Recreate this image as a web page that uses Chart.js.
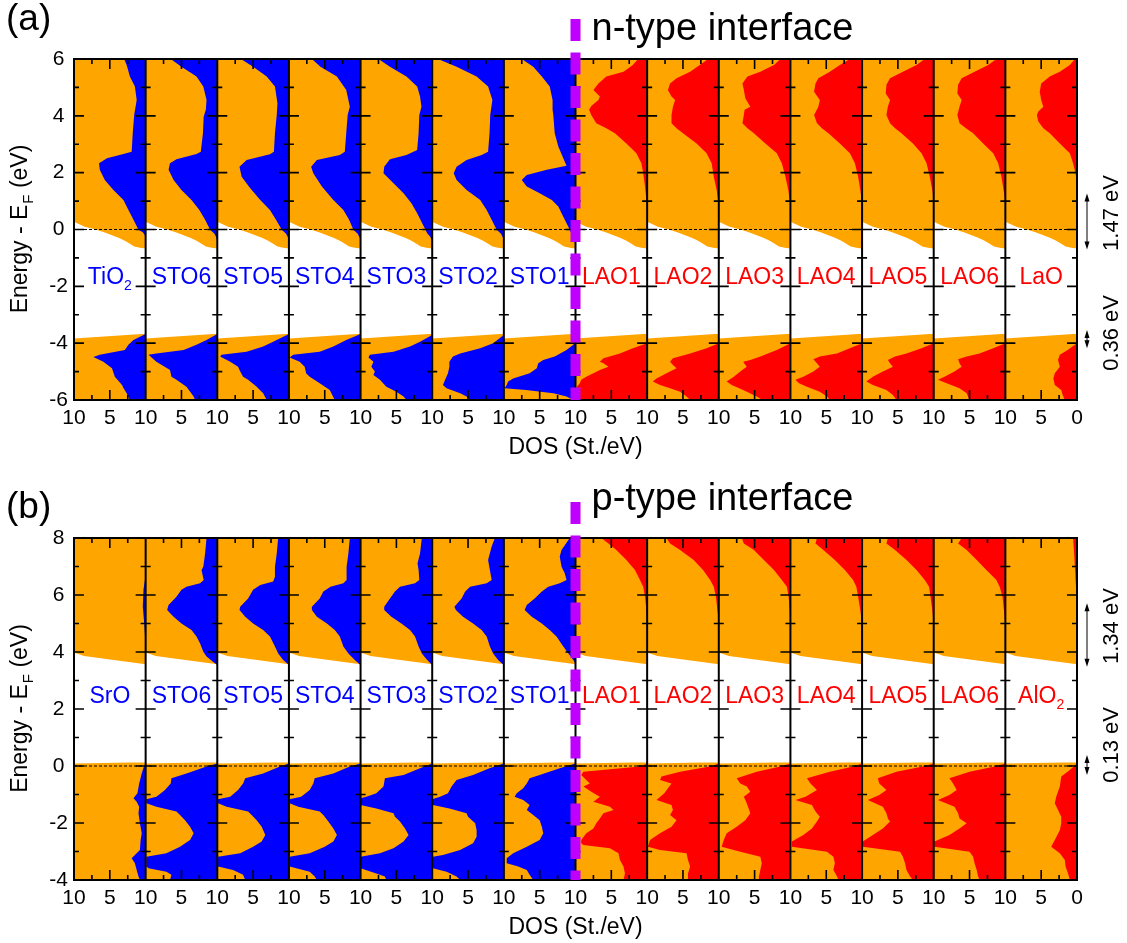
<!DOCTYPE html>
<html>
<head>
<meta charset="utf-8">
<script src="https://cdn.jsdelivr.net/npm/chart.js@4.4.1/dist/chart.umd.min.js"></script>
<style>
html, body { margin: 0; padding: 0; background: #fff; overflow: hidden; }
canvas { position: absolute; left: 0; }
#chartA { top: 0; }
#chartB { top: 480px; }
</style>
</head>
<body>
<canvas id="chartA" width="1127" height="470"></canvas>
<canvas id="chartB" width="1127" height="470"></canvas>
<script>
// ---- panel (a): n-type interface, [energy, DOS] pairs ----
const labelsA = ['TiO_2', 'STO6', 'STO5', 'STO4', 'STO3', 'STO2', 'STO1', 'LAO1', 'LAO2', 'LAO3', 'LAO4', 'LAO5', 'LAO6', 'LaO'];
const totalA = [[6,10],[0.27,10],[0.2,9.4],[0.1,8.5],[0,7],[-0.1,5.8],[-0.2,4.7],[-0.3,3.7],[-0.4,2.9],[-0.5,2.2],[-0.6,1.6],[-0.64,0.8],[-0.67,0],[-3.67,0],[-3.84,10],[-6,10]];

const a_TiO2 = [[6,3.0],[5.79,2.65],[5.38,2.2],[5.03,1.5],[4.56,1.25],[4.03,1.6],[3.39,1.8],[2.74,1.95],[2.66,3.1],[2.51,5.4],[2.33,6.5],[2.10,6.4],[1.74,5.7],[1.39,4.5],[1.04,3.1],[0.69,2.4],[0.34,1.7],[-0.01,1.0],[-0.1,0.4],[-0.2,0.1],[-0.3,0],
  [-3.68,0],[-3.89,1.7],[-4.06,2.4],[-4.24,2.9],[-4.41,6.4],[-4.49,7.3],[-4.65,5.9],[-4.88,4.7],[-5.18,4.3],[-5.47,3.3],[-5.58,3.1],[-5.76,2.65],[-6,2.2]];
const a_STO6 = [[6,6.5],[5.73,5.0],[5.38,2.9],[5.03,1.95],[4.56,1.5],[4.21,1.6],[3.97,1.9],[3.39,2.0],[2.74,2.3],[2.66,2.9],[2.47,5.7],[2.33,6.6],[2.10,6.8],[1.74,6.1],[1.39,5.0],[1.04,3.6],[0.69,2.5],[0.34,1.7],[-0.01,1.0],[-0.15,0.4],[-0.3,0.1],[-0.45,0],
  [-3.68,0],[-3.89,1.5],[-4.06,2.9],[-4.24,4.7],[-4.36,8.5],[-4.41,9.6],[-4.65,8.5],[-4.94,6.6],[-5.18,6.4],[-5.29,5.7],[-5.53,4.3],[-5.88,3.3],[-6,3.1]];
const a_STO5 = [[6,6.7],[5.73,5.0],[5.38,3.1],[5.03,1.95],[4.44,1.6],[4.03,1.7],[3.39,1.95],[2.74,2.1],[2.65,2.65],[2.45,5.9],[2.21,6.9],[1.86,6.6],[1.45,5.4],[1.04,4.0],[0.69,2.65],[0.34,1.8],[-0.01,1.0],[-0.15,0.4],[-0.3,0.1],[-0.45,0],
  [-3.68,0],[-3.89,1.7],[-4.12,3.6],[-4.30,5.9],[-4.41,9.4],[-4.47,9.6],[-4.65,8.2],[-4.83,7.1],[-5.0,6.8],[-5.18,6.4],[-5.29,5.7],[-5.53,4.5],[-5.76,3.6],[-6,3.1]];
const a_STO4 = [[6,6.8],[5.73,5.6],[5.38,3.3],[4.91,2.0],[4.32,1.5],[4.03,1.8],[3.39,2.0],[2.74,2.2],[2.62,2.9],[2.45,6.1],[2.21,6.9],[1.98,6.6],[1.51,5.4],[1.04,3.8],[0.69,2.4],[0.34,1.6],[-0.01,1.0],[-0.15,0.4],[-0.3,0.1],[-0.45,0],
  [-3.68,0],[-3.89,2.0],[-4.12,3.8],[-4.30,5.7],[-4.41,9.4],[-4.50,9.9],[-4.65,8.5],[-4.83,7.8],[-5.06,7.6],[-5.18,7.1],[-5.41,5.7],[-5.65,4.3],[-6,3.6]];
const a_STO3 = [[6,7.5],[5.73,5.9],[5.38,3.6],[5.03,2.1],[4.68,1.7],[4.32,1.5],[4.03,1.8],[3.39,1.9],[2.80,2.1],[2.62,3.6],[2.47,5.9],[2.21,6.7],[1.98,6.8],[1.63,5.4],[1.28,4.0],[0.92,2.9],[0.57,2.1],[0.22,1.4],[-0.13,0.7],[-0.25,0.3],[-0.4,0],
  [-3.71,0],[-3.95,1.7],[-4.12,3.1],[-4.30,5.4],[-4.41,8.7],[-4.50,8.9],[-4.65,8.2],[-4.83,8.5],[-5.0,8.0],[-5.12,8.2],[-5.29,7.3],[-5.53,6.4],[-5.71,5.0],[-5.88,4.0],[-6,3.6]];
const a_STO2 = [[6,9.2],[5.73,6.6],[5.38,3.8],[5.03,2.2],[4.56,1.6],[4.03,1.9],[3.39,2.0],[2.74,2.2],[2.62,3.1],[2.45,5.2],[2.21,6.6],[1.98,7.0],[1.74,6.6],[1.39,5.2],[1.04,3.3],[0.69,2.4],[0.34,1.7],[-0.01,1.0],[-0.15,0.4],[-0.3,0.1],[-0.45,0],
  [-3.71,0],[-4.0,1.5],[-4.18,3.3],[-4.36,6.1],[-4.47,7.1],[-4.65,7.6],[-4.83,7.6],[-5.06,7.8],[-5.29,8.2],[-5.47,8.5],[-5.59,8.0],[-5.76,6.1],[-5.88,5.2],[-6,4.7]];
const a_STO1 = [[6,7.5],[5.73,5.9],[5.38,4.7],[5.03,3.6],[4.56,3.2],[4.21,3.2],[4.03,3.1],[3.39,2.9],[2.92,2.4],[2.45,1.6],[2.24,1.25],[2.10,4.0],[1.92,6.8],[1.74,7.5],[1.51,6.8],[1.28,5.0],[1.04,3.3],[0.81,2.4],[0.45,1.7],[0.10,1.0],[-0.13,0.6],[-0.3,0.2],[-0.45,0],
  [-3.89,0],[-4.06,0.3],[-4.24,1.25],[-4.47,2.9],[-4.59,4.5],[-4.71,5.2],[-4.88,5.4],[-5.06,6.4],[-5.24,8.7],[-5.35,9.4],[-5.47,9.6],[-5.59,9.9],[-5.65,6.9],[-5.76,3.1],[-5.88,1.25],[-6,0.3]];
const a_LAO1 = [[6,1.25],[5.79,2.0],[5.55,3.3],[5.38,5.7],[5.14,6.8],[4.91,7.5],[4.68,6.6],[4.56,6.8],[4.35,7.8],[4.21,8.1],[4.03,7.8],[3.74,7.1],[3.56,5.7],[3.39,4.5],[3.03,2.9],[2.68,1.5],[2.33,0.8],[1.98,0.55],[1.51,0.3],[1.04,0.1],[0.92,0],
  [-4.0,0],[-4.18,2.0],[-4.36,3.8],[-4.53,6.1],[-4.65,6.6],[-4.71,6.1],[-4.83,5.4],[-4.94,6.6],[-5.06,7.5],[-5.18,8.5],[-5.29,9.2],[-5.41,9.4],[-5.53,9.8],[-6,10]];
const a_LAO2 = [[6,1.5],[5.79,2.65],[5.55,4.0],[5.32,5.9],[5.14,6.8],[4.91,7.1],[4.68,6.6],[4.56,6.1],[4.32,6.4],[4.03,6.6],[3.74,6.6],[3.56,5.9],[3.39,5.0],[3.03,3.1],[2.68,1.7],[2.33,1.0],[1.86,0.7],[1.39,0.3],[1.04,0.1],[0.92,0],
  [-4.0,0],[-4.18,1.7],[-4.36,4.0],[-4.53,6.4],[-4.65,6.8],[-4.77,6.4],[-4.88,5.9],[-5.06,7.3],[-5.24,8.7],[-5.35,9.2],[-5.47,8.2],[-5.59,6.8],[-5.71,5.4],[-5.88,4.5],[-6,4.0]];
const a_LAO3 = [[6,1.4],[5.79,2.3],[5.55,4.2],[5.38,6.0],[5.14,6.7],[4.91,6.5],[4.62,6.3],[4.32,5.6],[4.21,6.4],[4.03,6.5],[3.74,6.7],[3.56,6.0],[3.39,5.1],[3.03,3.5],[2.68,1.9],[2.33,1.2],[1.86,0.7],[1.39,0.3],[1.04,0.1],[0.92,0],
  [-4.0,0],[-4.24,1.9],[-4.47,4.2],[-4.59,5.6],[-4.65,6.6],[-4.83,6.1],[-5.0,7.0],[-5.18,7.9],[-5.35,8.9],[-5.47,8.2],[-5.65,6.6],[-5.88,4.7],[-6,3.9]];
const a_LAO4 = [[6,1.7],[5.79,3.1],[5.55,4.5],[5.32,6.1],[5.14,6.5],[4.85,6.7],[4.56,5.9],[4.32,6.1],[4.03,6.7],[3.74,6.3],[3.56,5.6],[3.39,4.7],[3.03,3.1],[2.68,1.7],[2.33,1.0],[1.86,0.55],[1.39,0.25],[1.04,0.05],[0.92,0],
  [-4.0,0],[-4.18,1.7],[-4.36,3.5],[-4.47,5.9],[-4.57,6.8],[-4.71,6.3],[-4.83,5.9],[-5.0,6.8],[-5.18,8.2],[-5.29,9.3],[-5.41,8.8],[-5.53,7.7],[-5.71,5.9],[-5.88,4.9],[-6,4.5]];
const a_LAO5 = [[6,1.25],[5.79,2.4],[5.55,4.3],[5.32,6.1],[5.09,6.6],[4.79,6.7],[4.56,6.1],[4.32,6.4],[4.03,6.6],[3.74,6.1],[3.56,5.4],[3.39,4.5],[3.03,2.9],[2.68,1.7],[2.33,1.0],[1.86,0.55],[1.39,0.2],[1.04,0],
  [-4.0,0],[-4.18,1.7],[-4.36,3.8],[-4.47,5.4],[-4.59,6.4],[-4.71,6.1],[-4.83,5.7],[-5.0,7.1],[-5.18,8.5],[-5.35,9.4],[-5.47,8.5],[-5.65,6.6],[-5.82,5.7],[-6,5.2]];
const a_LAO6 = [[6,1.25],[5.79,2.4],[5.55,4.3],[5.32,6.1],[5.09,6.6],[4.79,6.7],[4.56,6.1],[4.32,6.4],[4.03,6.7],[3.74,6.4],[3.56,5.5],[3.39,4.5],[3.03,3.1],[2.68,1.7],[2.33,1.0],[1.86,0.55],[1.39,0.25],[1.04,0.05],[0.92,0],
  [-4.0,0],[-4.18,1.7],[-4.36,3.6],[-4.47,5.4],[-4.57,6.6],[-4.71,6.4],[-4.83,6.1],[-5.0,7.1],[-5.18,8.5],[-5.29,9.4],[-5.41,8.2],[-5.59,6.4],[-5.76,5.4],[-6,5.0]];
const a_LaO = [[6,0.3],[5.79,1.0],[5.55,2.4],[5.38,3.8],[5.14,5.0],[4.85,5.2],[4.56,5.0],[4.32,4.7],[4.15,5.4],[4.03,5.6],[3.80,5.4],[3.56,4.7],[3.39,3.8],[3.03,2.4],[2.68,1.0],[2.33,0.55],[1.98,0.2],[1.51,0],
  [-4.0,0],[-4.24,1.3],[-4.41,2.4],[-4.59,2.65],[-4.83,2.4],[-5.06,3.1],[-5.24,3.3],[-5.47,3.1],[-5.65,2.2],[-5.82,2.0],[-6,1.7]];
const partsA = [a_TiO2, a_STO6, a_STO5, a_STO4, a_STO3, a_STO2, a_STO1, a_LAO1, a_LAO2, a_LAO3, a_LAO4, a_LAO5, a_LAO6, a_LaO];
const offsetTextA = ['1.47 eV', '0.36 eV'];
const offsetTextEA = [0.58, -3.64];
const offsetArrowA = [[1.27, -0.70], [-3.54, -4.18]];

// ---- panel (b): p-type interface ----
const labelsB = ['SrO', 'STO6', 'STO5', 'STO4', 'STO3', 'STO2', 'STO1', 'LAO1', 'LAO2', 'LAO3', 'LAO4', 'LAO5', 'LAO6', 'AlO_2'];
const totalB = [[8,10],[3.98,10],[3.86,8.6],[3.57,0],[0.13,0],[0.09,10],[-4,10]];

const b_SrO = [[8,0],[6.6,0.05],[6.2,0.3],[5.6,0.4],[5.0,0.2],[4.4,0.05],[4.0,0],
  [0.09,0],[-0.02,0.25],[-0.26,0.55],[-0.61,0.9],[-0.96,1.15],[-1.13,1.7],[-1.25,1.25],[-1.43,0.9],[-1.66,1.0],[-2.01,0.8],[-2.36,0.55],[-2.60,0.7],[-2.95,0.8],[-3.24,1.95],[-3.41,1.5],[-3.65,1.25],[-3.88,1.0],[-4,0.8]];
const b_STO6 = [[8,1.5],[7.46,1.7],[6.99,1.95],[6.88,2.2],[6.53,1.9],[6.41,2.4],[6.29,4.3],[6.18,5.0],[5.94,5.7],[5.65,6.8],[5.47,7.0],[5.24,6.1],[5.0,5.0],[4.77,3.6],[4.54,2.9],[4.30,2.4],[4.01,1.95],[3.84,1.5],[3.66,0.6],[3.54,0],
  [0.09,0],[-0.02,1.5],[-0.26,4.3],[-0.43,6.4],[-0.61,6.5],[-0.84,7.3],[-1.08,8.5],[-1.17,9.9],[-1.31,9.9],[-1.43,8.5],[-1.60,5.7],[-1.72,5.2],[-1.90,4.5],[-2.13,3.8],[-2.36,3.3],[-2.60,3.8],[-2.83,5.2],[-3.06,7.1],[-3.18,9.9],[-3.53,9.9],[-3.59,9.6],[-3.71,7.1],[-3.82,6.4],[-4,6.6]];
const b_STO5 = [[8,1.5],[7.46,1.7],[6.99,1.95],[6.64,1.95],[6.47,2.2],[6.35,4.0],[6.18,5.0],[5.88,5.7],[5.59,6.8],[5.47,6.9],[5.24,6.1],[5.0,5.0],[4.77,3.6],[4.54,2.65],[4.19,1.95],[3.95,1.5],[3.72,0.8],[3.54,0],
  [0.09,0],[-0.02,1.25],[-0.26,3.6],[-0.43,6.1],[-0.61,6.4],[-0.84,7.1],[-1.08,8.2],[-1.17,9.9],[-1.31,9.9],[-1.43,8.7],[-1.60,5.7],[-1.72,5.2],[-1.90,4.5],[-2.13,3.8],[-2.42,3.3],[-2.65,3.8],[-2.83,5.0],[-3.06,6.8],[-3.18,9.9],[-3.53,9.9],[-3.65,7.8],[-3.82,6.4],[-4,6.1]];
const b_STO4 = [[8,1.5],[7.46,1.7],[6.99,1.95],[6.53,1.95],[6.41,2.4],[6.29,4.2],[6.12,5.2],[5.88,5.7],[5.59,6.8],[5.47,6.8],[5.24,6.1],[5.0,4.7],[4.77,3.6],[4.54,2.9],[4.19,2.4],[3.95,1.7],[3.72,0.8],[3.54,0],
  [0.09,0],[-0.02,1.5],[-0.26,3.8],[-0.43,6.4],[-0.61,6.6],[-0.84,7.1],[-1.08,8.3],[-1.17,9.9],[-1.31,9.9],[-1.43,8.7],[-1.60,5.7],[-1.72,5.2],[-1.95,4.5],[-2.19,3.8],[-2.42,3.3],[-2.65,3.8],[-2.83,5.0],[-3.06,7.1],[-3.18,9.9],[-3.53,9.9],[-3.71,7.1],[-3.88,6.4],[-4,6.1]];
const b_STO3 = [[8,1.45],[7.46,1.7],[7.11,2.05],[6.88,1.9],[6.53,1.8],[6.41,2.4],[6.29,4.5],[6.12,5.2],[5.88,5.9],[5.59,6.7],[5.47,6.7],[5.24,5.7],[5.0,4.3],[4.77,3.1],[4.54,2.4],[4.19,1.9],[3.95,1.45],[3.72,0.7],[3.54,0],
  [0.09,0],[-0.08,1.7],[-0.32,4.0],[-0.43,6.6],[-0.72,6.8],[-0.96,7.8],[-1.08,9.2],[-1.13,10],[-1.37,10],[-1.49,7.8],[-1.66,5.4],[-1.78,5.2],[-1.95,4.5],[-2.19,3.8],[-2.42,3.3],[-2.65,4.0],[-2.89,5.4],[-3.06,7.3],[-3.18,10],[-3.59,10],[-3.77,7.8],[-3.88,6.6],[-4,6.4]];
const b_STO2 = [[8,1.25],[7.70,1.7],[7.23,2.2],[6.88,1.95],[6.53,1.7],[6.41,2.4],[6.29,4.7],[6.12,5.4],[5.88,5.9],[5.59,6.9],[5.47,6.7],[5.24,5.7],[5.0,4.3],[4.77,3.1],[4.54,2.4],[4.19,1.95],[3.95,1.5],[3.72,0.8],[3.54,0],
  [0.09,0],[-0.08,2.0],[-0.32,4.3],[-0.49,6.6],[-0.72,7.3],[-0.96,7.8],[-1.08,8.9],[-1.16,9.9],[-1.37,9.9],[-1.49,7.6],[-1.66,5.2],[-1.78,5.0],[-2.01,4.0],[-2.25,3.8],[-2.48,3.8],[-2.71,4.3],[-2.95,6.1],[-3.12,8.5],[-3.18,9.9],[-3.59,9.9],[-3.71,8.0],[-3.88,6.6],[-4,6.1]];
const b_STO1 = [[8,0.8],[7.58,1.95],[7.35,2.2],[6.99,1.95],[6.76,1.5],[6.53,1.25],[6.41,2.2],[6.29,3.8],[6.12,4.7],[5.88,5.7],[5.65,6.8],[5.47,7.1],[5.24,6.1],[5.0,4.7],[4.77,3.6],[4.54,2.65],[4.19,1.7],[3.95,1.0],[3.72,0.3],[3.60,0],
  [0.09,0],[-0.08,2.2],[-0.32,5.0],[-0.43,6.4],[-0.61,6.8],[-0.78,7.3],[-0.96,8.2],[-1.08,8.5],[-1.19,7.3],[-1.37,6.4],[-1.54,6.8],[-1.72,5.9],[-1.90,5.0],[-2.13,4.7],[-2.36,4.5],[-2.60,5.0],[-2.83,6.8],[-3.06,8.7],[-3.24,9.6],[-3.41,9.6],[-3.53,8.0],[-3.65,6.8],[-3.82,6.4],[-4,5.9]];
const b_LAO1 = [[8,6.4],[7.81,5.4],[7.58,4.3],[7.23,2.9],[6.88,1.7],[6.53,1.0],[6.29,0.55],[5.94,0.3],[5.47,0.1],[5.12,0],
  [0.09,0],[-0.02,1.0],[-0.20,8.9],[-0.32,9.2],[-0.49,8.5],[-0.61,8.0],[-0.72,8.9],[-0.90,7.8],[-1.08,6.6],[-1.25,7.5],[-1.43,5.2],[-1.54,4.7],[-1.66,6.1],[-1.84,6.6],[-2.01,7.1],[-2.19,7.5],[-2.36,8.5],[-2.60,9.2],[-2.71,9.2],[-2.77,8.9],[-2.89,5.2],[-3.06,4.0],[-3.30,3.8],[-3.53,3.3],[-3.77,3.1],[-4,3.3]];
const b_LAO2 = [[8,7.3],[7.81,6.8],[7.58,5.4],[7.23,3.5],[6.88,2.2],[6.53,1.2],[6.29,0.7],[5.94,0.4],[5.47,0.2],[5.12,0],
  [0.09,0],[-0.02,1.25],[-0.20,5.4],[-0.37,8.0],[-0.49,8.2],[-0.61,6.6],[-0.78,7.1],[-0.96,7.6],[-1.19,8.7],[-1.37,6.6],[-1.54,6.4],[-1.72,6.8],[-1.90,5.9],[-2.13,6.6],[-2.36,8.2],[-2.60,9.6],[-2.83,9.9],[-2.95,8.2],[-3.06,4.5],[-3.30,4.3],[-3.53,4.0],[-3.77,4.3],[-4,4.3]];
const b_LAO3 = [[8,6.8],[7.81,6.5],[7.58,5.1],[7.23,3.7],[6.88,2.3],[6.53,1.2],[6.29,0.5],[5.94,0.25],[5.47,0.1],[5.12,0],
  [0.09,0],[-0.02,1.4],[-0.20,4.7],[-0.43,7.5],[-0.61,7.0],[-0.72,6.1],[-0.90,5.6],[-1.08,6.5],[-1.31,6.1],[-1.66,5.6],[-1.90,6.3],[-2.13,7.5],[-2.36,8.9],[-2.60,9.3],[-2.83,9.6],[-3.01,7.0],[-3.18,4.2],[-3.41,4.0],[-3.65,4.2],[-3.88,4.4],[-4,4.4]];
const b_LAO4 = [[8,6.3],[7.81,6.5],[7.58,5.4],[7.23,3.8],[6.88,2.4],[6.53,1.25],[6.29,0.8],[5.94,0.55],[5.47,0.25],[5.0,0],
  [0.09,0],[-0.02,1.25],[-0.20,4.5],[-0.43,7.7],[-0.61,7.2],[-0.84,6.3],[-1.08,7.9],[-1.19,9.3],[-1.37,7.0],[-1.60,6.5],[-1.78,5.9],[-1.95,6.3],[-2.19,7.0],[-2.42,8.2],[-2.65,9.8],[-2.83,9.8],[-3.01,4.9],[-3.18,4.0],[-3.41,3.8],[-3.65,4.0],[-3.88,3.5],[-4,3.3]];
const b_LAO5 = [[8,6.4],[7.81,6.6],[7.58,5.4],[7.23,3.8],[6.88,2.4],[6.53,1.25],[6.29,0.65],[5.94,0.45],[5.47,0.2],[5.0,0],
  [0.09,0],[-0.02,1.5],[-0.20,5.2],[-0.43,7.8],[-0.61,7.6],[-0.84,6.6],[-1.02,7.6],[-1.19,9.2],[-1.43,7.1],[-1.66,6.6],[-1.84,6.4],[-1.95,6.1],[-2.19,7.1],[-2.42,8.5],[-2.65,9.9],[-2.83,9.9],[-3.01,4.7],[-3.18,4.3],[-3.41,4.0],[-3.65,3.8],[-3.88,3.3],[-4,2.9]];
const b_LAO6 = [[8,6.1],[7.81,6.6],[7.58,5.4],[7.23,4.0],[6.88,2.65],[6.53,1.25],[6.29,0.8],[5.94,0.4],[5.47,0.2],[5.0,0],
  [0.09,0],[-0.02,1.5],[-0.20,5.0],[-0.43,7.8],[-0.61,7.3],[-0.84,6.8],[-1.02,7.8],[-1.19,9.4],[-1.43,7.1],[-1.66,6.6],[-1.84,6.4],[-2.01,5.4],[-2.19,6.4],[-2.42,7.8],[-2.65,9.9],[-2.83,9.9],[-3.01,5.0],[-3.18,4.5],[-3.41,4.3],[-3.65,4.0],[-3.88,3.8],[-4,3.6]];
const b_AlO2 = [[8,0.55],[7.46,0.4],[6.99,0.3],[6.53,0.2],[5.71,0],
  [0.09,0],[-0.14,1.0],[-0.37,2.2],[-0.72,2.4],[-1.08,2.9],[-1.31,3.1],[-1.54,2.65],[-1.78,2.2],[-2.01,2.2],[-2.25,2.4],[-2.60,3.1],[-2.83,3.6],[-3.06,2.4],[-3.30,1.7],[-3.53,1.6],[-3.77,1.25],[-4,1.0]];
const partsB = [b_SrO, b_STO6, b_STO5, b_STO4, b_STO3, b_STO2, b_STO1, b_LAO1, b_LAO2, b_LAO3, b_LAO4, b_LAO5, b_LAO6, b_AlO2];
const offsetTextB = ['1.34 eV', '0.13 eV'];
const offsetTextEB = [4.91, 0.74];
const offsetArrowB = [[5.71, 3.48], [0.39, -0.32]];

const ORANGE = '#ffa500';
const BLUE = '#0000ff';
const RED = '#ff0000';
const VIOLET = '#bf00ff';
const FONT = '"Liberation Sans", Arial, Helvetica, sans-serif';
Chart.defaults.font.family = FONT;
Chart.defaults.color = '#000';

// each layer gets its own 10-wide slot on the x scale, DOS 10 on the left, 0 on the right
function toPoints(pairs, k) {
  return pairs.map(p => ({x: k * 10 + 10 - Math.min(p[1], 10), y: p[0]}));
}

function makeDatasets(c) {
  const sets = [];
  c.labels.forEach((name, k) => {
    const edge = {value: k * 10 + 10};
    sets.push({data: toPoints(c.total, k), backgroundColor: ORANGE, fill: edge, order: 3});
    sets.push({data: toPoints(c.parts[k], k), backgroundColor: k < 7 ? BLUE : RED, fill: edge, order: 2});
  });
  const xEnd = c.labels.length * 10;
  sets.push({data: [{x: 0, y: 0}, {x: xEnd, y: 0}], borderColor: '#000', borderWidth: 1, borderDash: [3, 2], fill: false, order: 1});
  sets.push({data: [{x: 70, y: c.dashTop}, {x: 70, y: c.yMin}], borderColor: VIOLET, borderWidth: 10, borderDash: [22, 11.5], fill: false, clip: false, order: 0});
  return sets;
}

function drawFrame(chart) {
  const {ctx, chartArea: area, scales: {x, y}} = chart;
  const n = Math.round(x.max / 10);
  ctx.save();
  ctx.strokeStyle = '#000';
  ctx.lineWidth = 1.6;
  ctx.beginPath();
  for (let k = 0; k <= n; k++) {
    const px = x.getPixelForValue(k * 10);
    for (let e = y.min; e <= y.max; e++) {
      const py = y.getPixelForValue(e);
      const len = e % 2 === 0 ? 10 : 5;
      ctx.moveTo(k > 0 ? px - len : px, py);
      ctx.lineTo(k < n ? px + len : px, py);
    }
    if (k < n) {
      for (let d = 2.5; d < 10; d += 2.5) {
        const qx = x.getPixelForValue(k * 10 + d);
        const len = d === 5 ? 10 : 5;
        ctx.moveTo(qx, area.top); ctx.lineTo(qx, area.top + len);
        ctx.moveTo(qx, area.bottom); ctx.lineTo(qx, area.bottom - len);
      }
    }
  }
  ctx.stroke();
  ctx.lineWidth = 2;
  ctx.beginPath();
  for (let k = 0; k <= n; k++) {
    const px = x.getPixelForValue(k * 10);
    ctx.moveTo(px, area.top - 1); ctx.lineTo(px, area.bottom + 1);
  }
  ctx.moveTo(area.left, area.top); ctx.lineTo(area.right, area.top);
  ctx.moveTo(area.left, area.bottom); ctx.lineTo(area.right, area.bottom);
  ctx.stroke();
  ctx.restore();
}

// text with an optional subscript, written as 'TiO_2'
function subText(ctx, text, cx, base, size, align) {
  const [main, sub] = text.split('_');
  ctx.font = size + 'px ' + FONT;
  const w1 = ctx.measureText(main).width;
  let w2 = 0;
  if (sub) { ctx.font = Math.round(size * 0.6) + 'px ' + FONT; w2 = ctx.measureText(sub).width; }
  const x0 = align === 'center' ? cx - (w1 + w2) / 2 : cx;
  ctx.textAlign = 'left';
  ctx.font = size + 'px ' + FONT;
  ctx.fillText(main, x0, base);
  if (sub) {
    ctx.font = Math.round(size * 0.6) + 'px ' + FONT;
    ctx.fillText(sub, x0 + w1, base + size * 0.25);
  }
}

function arrow(ctx, x, y1, y2) {
  ctx.beginPath();
  ctx.moveTo(x, y1 + 5); ctx.lineTo(x, y2 - 5);
  ctx.stroke();
  ctx.beginPath();
  ctx.moveTo(x, y1); ctx.lineTo(x - 2.5, y1 + 8); ctx.lineTo(x + 2.5, y1 + 8); ctx.closePath();
  ctx.moveTo(x, y2); ctx.lineTo(x - 2.5, y2 - 8); ctx.lineTo(x + 2.5, y2 - 8); ctx.closePath();
  ctx.fill();
}

function makeDeco(c) {
  return {
    id: 'deco',
    beforeDatasetDraw(chart, args) {
      if (args.index === chart.data.datasets.length - 2) drawFrame(chart);
    },
    afterDraw(chart) {
      const {ctx, chartArea: area, scales: {x, y}} = chart;
      ctx.save();
      ctx.fillStyle = '#000';
      ctx.textBaseline = 'alphabetic';
      ctx.textAlign = 'left';
      ctx.font = '37px ' + FONT;
      ctx.fillText(c.tag, 6, c.tagY);
      ctx.font = '38px ' + FONT;
      ctx.fillText(c.title, x.getPixelForValue(70) + 16, c.titleY);

      // y-axis title
      ctx.save();
      ctx.translate(27, (area.top + area.bottom) / 2);
      ctx.rotate(-Math.PI / 2);
      ctx.font = '23px ' + FONT;
      const w1 = ctx.measureText('Energy - E').width;
      const w3 = ctx.measureText(' (eV)').width;
      ctx.font = '15px ' + FONT;
      const w2 = ctx.measureText('F').width;
      let px = -(w1 + w2 + w3) / 2;
      ctx.font = '23px ' + FONT;
      ctx.fillText('Energy - E', px, 0);
      ctx.font = '15px ' + FONT;
      ctx.fillText('F', px + w1 + 1, 6);
      ctx.font = '23px ' + FONT;
      ctx.fillText(' (eV)', px + w1 + w2 + 1, 0);
      ctx.restore();

      // layer names
      c.labels.forEach((name, k) => {
        ctx.fillStyle = k < 7 ? BLUE : RED;
        subText(ctx, name, x.getPixelForValue(k * 10 + 5), y.getPixelForValue(c.labelE), 23, 'center');
      });

      // band offsets on the right
      ctx.fillStyle = '#000';
      ctx.strokeStyle = '#000';
      ctx.lineWidth = 1;
      const ax = area.right + 10;
      c.arrows.forEach(([e1, e2]) => arrow(ctx, ax, y.getPixelForValue(e1), y.getPixelForValue(e2)));
      ctx.font = '22px ' + FONT;
      c.notes.forEach((t, i) => {
        ctx.save();
        ctx.translate(area.right + 41, y.getPixelForValue(c.notesE[i]));
        ctx.rotate(-Math.PI / 2);
        ctx.textAlign = 'center';
        ctx.fillText(t, 0, 0);
        ctx.restore();
      });
      ctx.restore();
    }
  };
}

function makeChart(id, c) {
  return new Chart(document.getElementById(id), {
    type: 'line',
    data: {datasets: makeDatasets(c)},
    options: {
      indexAxis: 'y',
      responsive: false,
      animation: false,
      events: [],
      layout: {padding: {top: c.padTop, right: 50, left: 0, bottom: 0}},
      datasets: {line: {pointRadius: 0, borderWidth: 0, tension: 0}},
      plugins: {legend: {display: false}, tooltip: {enabled: false}},
      scales: {
        x: {
          type: 'linear', min: 0, max: c.labels.length * 10,
          grid: {display: false, drawTicks: false}, border: {display: false},
          ticks: {
            stepSize: 5, autoSkip: false, maxRotation: 0, padding: 6, font: {size: 21},
            callback: v => v === c.labels.length * 10 ? '0' : (v % 10 === 0 ? '10' : '5')
          },
          title: {display: true, text: 'DOS (St./eV)', font: {size: 23}, padding: {top: 0, bottom: 9}},
          afterFit: s => { s.height = 70; }
        },
        y: {
          type: 'linear', min: c.yMin, max: c.yMax,
          grid: {display: false, drawTicks: false}, border: {display: false},
          ticks: {stepSize: 2, padding: 6, crossAlign: 'center', font: {size: 21}},
          afterFit: s => { s.width = 74; }
        }
      }
    },
    plugins: [makeDeco(c)]
  });
}

makeChart('chartA', {
  labels: labelsA, total: totalA, parts: partsA, yMin: -6, yMax: 6, dashTop: 7.41, padTop: 59,
  tag: '(a)', tagY: 30, title: 'n-type interface', titleY: 40, labelE: -1.91,
  notes: offsetTextA, notesE: offsetTextEA, arrows: offsetArrowA
});
makeChart('chartB', {
  labels: labelsB, total: totalB, parts: partsB, yMin: -4, yMax: 8, dashTop: 9.26, padTop: 58,
  tag: '(b)', tagY: 38, title: 'p-type interface', titleY: 30, labelE: 2.2,
  notes: offsetTextB, notesE: offsetTextEB, arrows: offsetArrowB
});
</script>
</body>
</html>
